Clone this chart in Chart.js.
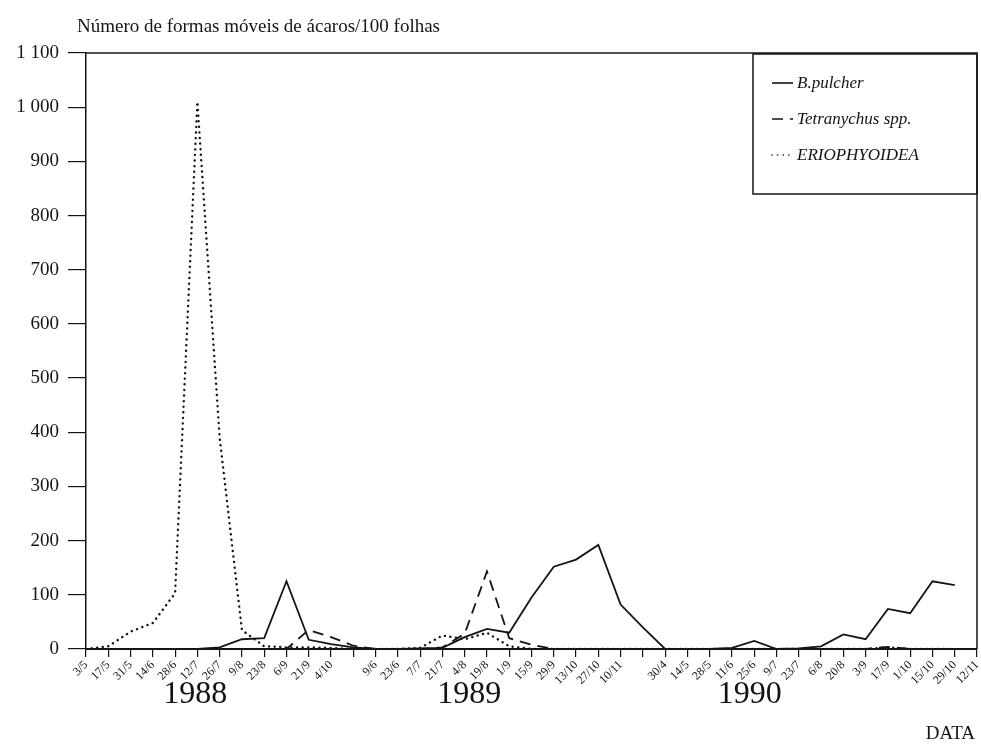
<!DOCTYPE html>
<html>
<head>
<meta charset="utf-8">
<title>Ácaros</title>
<script src="https://cdn.jsdelivr.net/npm/chart.js@4.4.1/dist/chart.umd.min.js"></script>
<style>
html, body { margin: 0; padding: 0; background: #fff; }
#wrap { position: relative; width: 981px; height: 745px; }
</style>
</head>
<body>
<div id="wrap"><canvas id="myChart" width="981" height="745"></canvas></div>
<script>
// datas de amostragem (1988 | 1989 | 1990)
const datas = [
  '3/5', '17/5', '31/5', '14/6', '28/6', '12/7', '26/7', '9/8', '23/8', '6/9', '21/9', '4/10', '',
  '9/6', '23/6', '7/7', '21/7', '4/8', '19/8', '1/9', '15/9', '29/9', '13/10', '27/10', '10/11', '',
  '30/4', '14/5', '28/5', '11/6', '25/6', '9/7', '23/7', '6/8', '20/8', '3/9', '17/9', '1/10', '15/10', '29/10', '12/11'
];
const anos = ['1988', '1989', '1990'];

const bPulcher = [
  0, 0, 0, 0, 0, 0, 3, 18, 20, 125, 17, 9, 3,
  0, 0, 1, 2, 22, 37, 30, 95, 152, 165, 192, 82, 40,
  0, 0, 0, 2, 15, 0, 1, 5, 27, 18, 74, 66, 125, 118, null
];
const tetranychus = [
  0, 0, 0, 0, 0, 0, 0, 0, 0, 0, 35, 22, 6,
  0, 0, 0, 3, 28, 143, 20, 8, 0, 0, 0, 0, 0,
  0, 0, 0, 0, 0, 0, 0, 0, 0, 0, 4, 0, 0, 0, null
];
const eriophyoidea = [
  0, 5, 32, 48, 103, 1010, 390, 35, 5, 3, 3, 2, 0,
  0, 0, 2, 25, 18, 30, 5, 0, 0, 0, 0, 0, 0,
  0, 0, 0, 0, 0, 0, 0, 0, 0, 0, 3, 0, 0, 0, null
];

const tinta = '#141414';
const serif = 'Liberation Serif';

function milhar(v) {
  if (v >= 1000) return Math.floor(v / 1000) + ' ' + String(v % 1000).padStart(3, '0');
  return String(v);
}

const extras = {
  id: 'extras',
  afterDraw(chart) {
    const { ctx, chartArea: a, scales } = chart;
    ctx.save();
    // moldura superior e direita
    ctx.strokeStyle = tinta;
    ctx.lineWidth = 1.5;
    ctx.beginPath();
    ctx.moveTo(a.left, a.top);
    ctx.lineTo(a.right, a.top);
    ctx.lineTo(a.right, a.bottom);
    ctx.stroke();

    // titulo do eixo y
    ctx.fillStyle = tinta;
    ctx.font = '19px "' + serif + '"';
    ctx.textAlign = 'left';
    ctx.textBaseline = 'middle';
    ctx.fillText('Número de formas móveis de ácaros/100 folhas', 77, 27);

    // anos por baixo das datas
    ctx.font = '32px "' + serif + '"';
    ctx.textAlign = 'center';
    ctx.textBaseline = 'alphabetic';
    const centros = [4.9, 17.2, 29.8];
    anos.forEach((ano, i) => {
      ctx.fillText(ano, scales.x.getPixelForValue(centros[i]), 703);
    });

    ctx.font = '19px "' + serif + '"';
    ctx.textAlign = 'right';
    ctx.fillText('DATA', 975, 739);

    // legenda
    const lx = 753, ly = 54, lw = a.right - 753, lh = 140;
    ctx.lineWidth = 1.5;
    ctx.setLineDash([]);
    ctx.strokeRect(lx, ly, lw, lh);
    ctx.font = 'italic 17px "' + serif + '"';
    ctx.textAlign = 'left';
    ctx.textBaseline = 'middle';
    const ys = [83, 119, 155];
    chart.data.datasets.forEach((ds, i) => {
      ctx.strokeStyle = tinta;
      ctx.lineWidth = 1.6;
      ctx.setLineDash(ds.borderDash || []);
      ctx.lineCap = ds.borderCapStyle || 'butt';
      ctx.beginPath();
      ctx.moveTo(772, ys[i]);
      ctx.lineTo(793, ys[i]);
      ctx.stroke();
      ctx.setLineDash([]);
      ctx.fillText(ds.label, 797, ys[i] + 1);
    });
    ctx.restore();
  }
};

const ctx = document.getElementById('myChart').getContext('2d');
const chart = new Chart(ctx, {
  type: 'line',
  data: {
    labels: datas,
    datasets: [
      {
        label: 'B.pulcher',
        data: bPulcher,
        borderColor: tinta,
        borderWidth: 1.8,
        pointRadius: 0,
        tension: 0
      },
      {
        label: 'Tetranychus spp.',
        data: tetranychus,
        borderColor: tinta,
        borderWidth: 1.8,
        borderDash: [11, 7],
        pointRadius: 0,
        tension: 0
      },
      {
        label: 'ERIOPHYOIDEA',
        data: eriophyoidea,
        borderColor: tinta,
        borderWidth: 2.4,
        borderDash: [0.1, 5.5],
        borderCapStyle: 'round',
        pointRadius: 0,
        tension: 0
      }
    ]
  },
  options: {
    responsive: false,
    animation: false,
    layout: { padding: { top: 53, right: 4, left: 0, bottom: 0 } },
    plugins: {
      legend: { display: false },
      tooltip: { enabled: false }
    },
    scales: {
      x: {
        offset: false,
        grid: { drawOnChartArea: false, drawTicks: true, tickLength: 8, color: tinta, lineWidth: 1.2 },
        border: { display: true, color: tinta, width: 2 },
        ticks: {
          autoSkip: false,
          minRotation: 45,
          maxRotation: 45,
          padding: 1,
          color: tinta,
          font: { family: serif, size: 12 }
        },
        afterFit: s => { s.height = 96; s.paddingRight = 0; }
      },
      y: {
        min: 0,
        max: 1100,
        grid: { drawOnChartArea: false, drawTicks: true, tickLength: 18, color: tinta, lineWidth: 1.2 },
        border: { display: true, color: tinta, width: 1.5 },
        ticks: {
          stepSize: 100,
          padding: 9,
          color: tinta,
          font: { family: serif, size: 19 },
          callback: v => milhar(v)
        },
        afterFit: s => { s.width = 86; }
      }
    }
  },
  plugins: [extras]
});
</script>
</body>
</html>
